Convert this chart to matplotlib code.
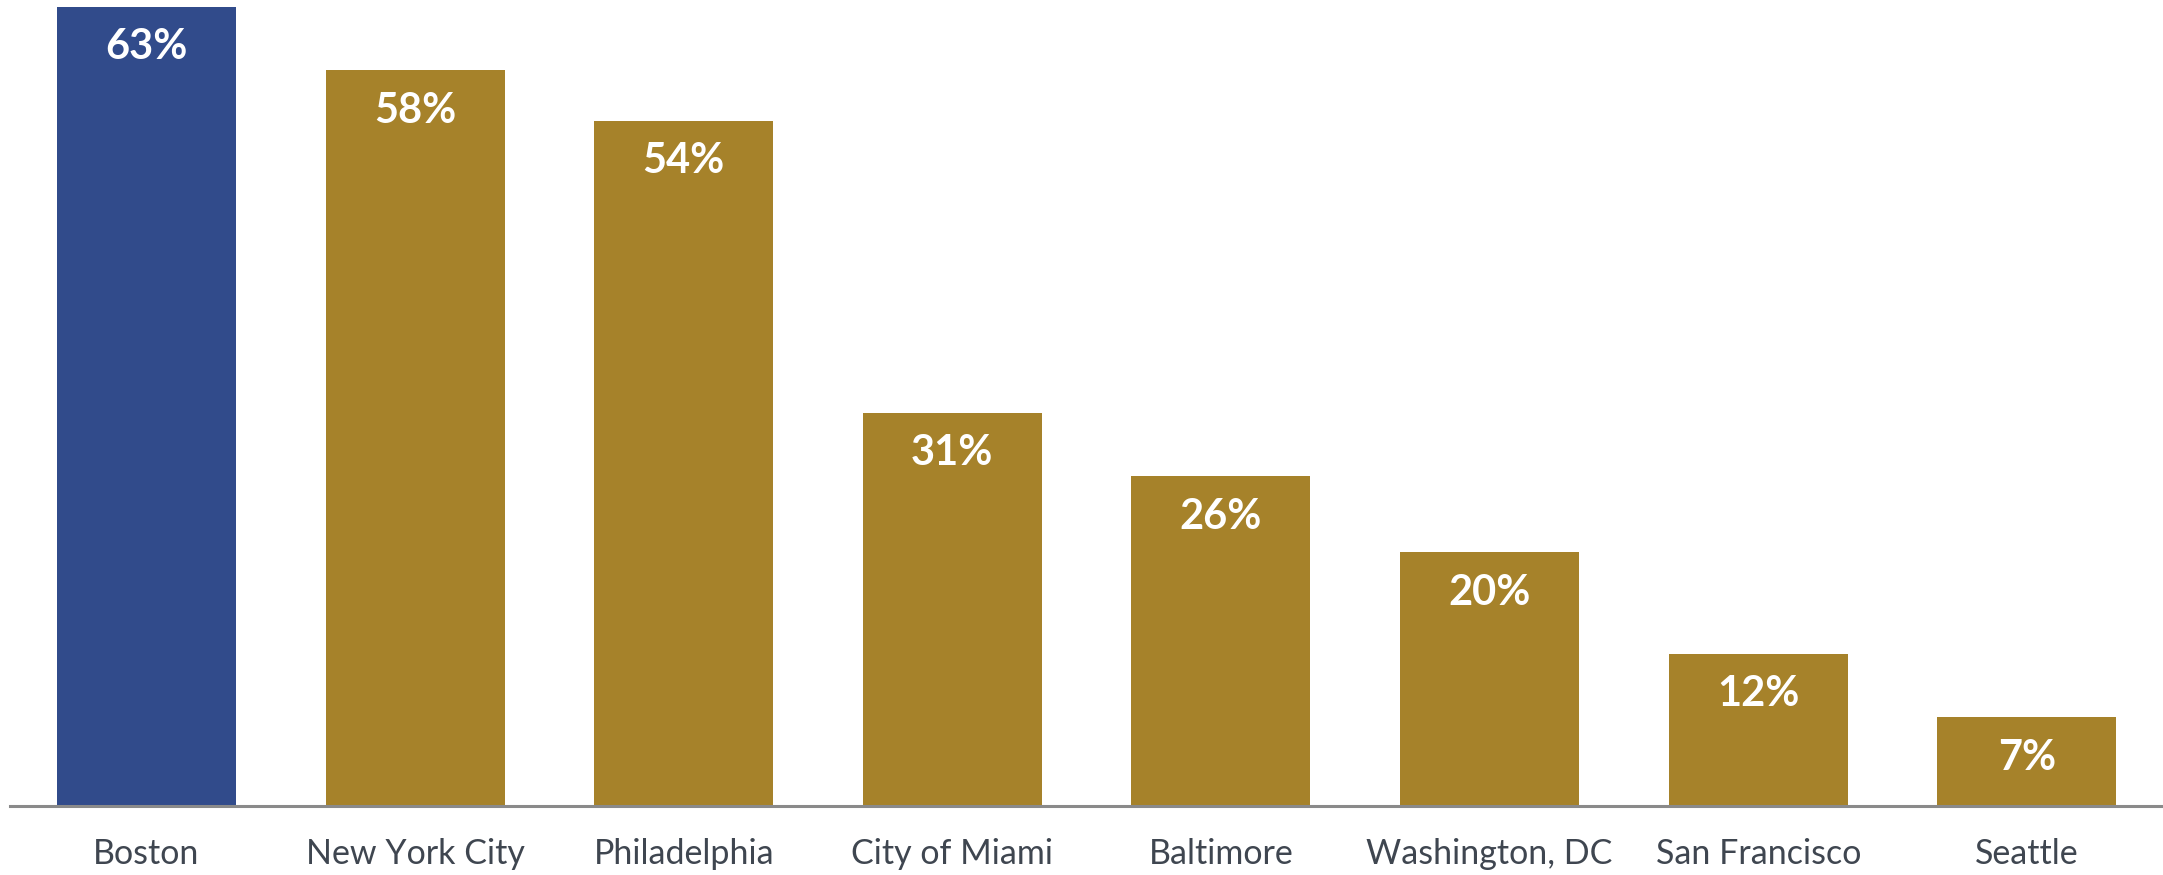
import matplotlib
matplotlib.use("Agg")
import matplotlib.pyplot as plt

cities = ["Boston", "New York City", "Philadelphia", "City of Miami",
          "Baltimore", "Washington, DC", "San Francisco", "Seattle"]
shares = [63, 58, 54, 31, 26, 20, 12, 7]
highlight = "Boston"

BLUE = "#314B8B"
GOLD = "#A6822A"

plt.rcParams["font.family"] = ["Lato", "DejaVu Sans"]

fig = plt.figure(figsize=(21.63, 8.75), dpi=100)
ax = fig.add_axes([10 / 2163, 1 - 806 / 875, 1 - 10 / 2163, 799 / 875])

colors = [BLUE if c == highlight else GOLD for c in cities]
x = range(len(cities))
bars = ax.bar(x, shares, width=0.666, color=colors)

for b, v in zip(bars, shares):
    ax.annotate(f"{v}%", (b.get_x() + b.get_width() / 2, v),
                xytext=(0, -29), textcoords="offset points",
                ha="center", va="center", color="white",
                fontsize=30, fontweight="bold")

ax.set_xlim(-0.508, 7.507)
ax.set_ylim(0, 63)
ax.set_xticks(list(x))
ax.set_xticklabels(cities, fontsize=24.5, color="#3F4650")
ax.tick_params(axis="x", length=0, pad=23)
ax.set_yticks([])
for s in ["top", "right", "left"]:
    ax.spines[s].set_visible(False)
ax.spines["bottom"].set_color("#8A8A8A")
ax.spines["bottom"].set_linewidth(2.2)

fig.savefig("out.png", dpi=100)
